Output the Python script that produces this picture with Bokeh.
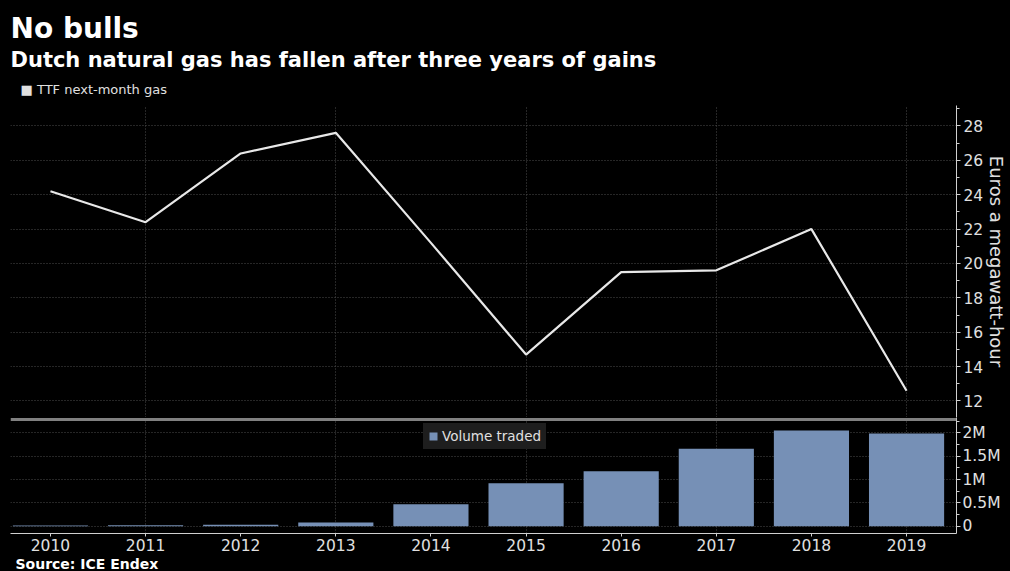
from bokeh.plotting import figure
from bokeh.layouts import column
from bokeh.models import (Range1d, SingleIntervalTicker, FixedTicker, Legend, LegendItem,
                          Span, CustomJSTickFormatter, Title)
from bokeh.embed import file_html
from bokeh.resources import INLINE

# ---- data ----
years = [2010, 2011, 2012, 2013, 2014, 2015, 2016, 2017, 2018, 2019]
ttf_price = [24.2, 22.4, 26.4, 27.6, 21.2, 14.7, 19.5, 19.6, 22.0, 12.6]   # euros / MWh
volume = [15000, 20000, 35000, 80000, 470000, 920000, 1180000, 1660000, 2050000, 1990000]
grid_years = years[1::2]

title_text = "No bulls"
subtitle_text = "Dutch natural gas has fallen after three years of gains"
price_label = "\u25a0 TTF next-month gas"
volume_label = "Volume traded"
y_axis_text = "Euros a megawatt-hour"
source_text = "Source: ICE Endex"

BG = "#000000"
LINE_C = "#e8e8e8"
BAR_C = "#7690b6"
GRID_C = "#4d4d4d"
AXIS_C = "#d0d0d0"
TXT_C = "#e0e0e0"
TICK_FONT = "DejaVu Sans"
TITLE_FONT = "DejaVu Sans"

x_rng = Range1d(2009.58, 2019.525)

# ---- top panel: price ----
p1 = figure(width=1010, height=417, output_backend="svg", toolbar_location=None, tools="",
            x_range=x_rng, y_range=Range1d(11.04, 29.19),
            x_axis_location=None, y_axis_location="right",
            min_border_top=105, min_border_bottom=0, min_border_left=10, min_border_right=52)
p1.background_fill_color = BG
p1.border_fill_color = BG
p1.outline_line_color = None
p1.styles = {"background-color": BG}

p1.line(years, ttf_price, line_color=LINE_C, line_width=2.2)

ax1 = p1.yaxis[0]
ax1.ticker = SingleIntervalTicker(interval=2, num_minor_ticks=2)
ax1.axis_line_color = AXIS_C
ax1.major_tick_line_color = AXIS_C
ax1.minor_tick_line_color = AXIS_C
ax1.major_tick_in = 0
ax1.major_tick_out = 4
ax1.minor_tick_in = 0
ax1.minor_tick_out = 3
ax1.major_label_standoff = 3
ax1.major_label_text_font = TICK_FONT
ax1.major_label_text_font_size = "15.5px"
ax1.major_label_text_color = TXT_C
ax1.axis_label = y_axis_text
ax1.axis_label_standoff = 0
ax1.axis_label_text_font = TICK_FONT
ax1.axis_label_text_font_size = "18px"
ax1.axis_label_text_font_style = "normal"
ax1.axis_label_text_color = TXT_C

p1.xgrid.ticker = FixedTicker(ticks=grid_years)
for g in (p1.xgrid, p1.ygrid):
    g.grid_line_color = GRID_C
    g.grid_line_dash = "1 2"
    g.grid_line_width = 1

p1.add_layout(Title(text=price_label, align="left", offset=10, standoff=17,
                    text_font=TITLE_FONT, text_font_style="normal", text_font_size="13px",
                    text_color=TXT_C), "above")
p1.add_layout(Title(text=subtitle_text, align="left", offset=0, standoff=0,
                    text_font=TITLE_FONT, text_font_style="bold", text_font_size="21px",
                    text_color="#ffffff"), "above")
p1.add_layout(Title(text=title_text, align="left", offset=0, standoff=2,
                    text_font=TITLE_FONT, text_font_style="bold", text_font_size="28px",
                    text_color="#ffffff"), "above")

# ---- bottom panel: volume ----
p2 = figure(width=1010, height=154, output_backend="svg", toolbar_location=None, tools="",
            x_range=x_rng, y_range=Range1d(-154000, 2330000),
            y_axis_location="right",
            min_border_top=0, min_border_bottom=0, min_border_left=10, min_border_right=52)
p2.background_fill_color = BG
p2.border_fill_color = BG
p2.outline_line_color = None
p2.styles = {"background-color": BG}

bars = p2.vbar(x=years, top=volume, bottom=0, width=0.79, fill_color=BAR_C, line_color=None)

p2.add_layout(Span(location=2286000, dimension="width", line_color="#808080", line_width=3))

ax2 = p2.yaxis[0]
ax2.ticker = SingleIntervalTicker(interval=500000, num_minor_ticks=2)
ax2.formatter = CustomJSTickFormatter(code="return tick == 0 ? '0' : (tick / 1e6) + 'M';")
ax2.axis_line_color = AXIS_C
ax2.major_tick_line_color = AXIS_C
ax2.minor_tick_line_color = AXIS_C
ax2.major_tick_in = 0
ax2.major_tick_out = 4
ax2.minor_tick_in = 0
ax2.minor_tick_out = 3
ax2.major_label_standoff = 2
ax2.major_label_text_font = TICK_FONT
ax2.major_label_text_font_size = "15.5px"
ax2.major_label_text_color = TXT_C

axx = p2.xaxis[0]
axx.ticker = FixedTicker(ticks=years)
axx.axis_line_color = AXIS_C
axx.major_tick_line_color = AXIS_C
axx.minor_tick_line_color = None
axx.major_tick_in = 0
axx.major_tick_out = 3
axx.major_label_standoff = 2
axx.major_label_text_font = TICK_FONT
axx.major_label_text_font_size = "15.5px"
axx.major_label_text_color = TXT_C

p2.xgrid.ticker = FixedTicker(ticks=grid_years)
for g in (p2.xgrid, p2.ygrid):
    g.grid_line_color = GRID_C
    g.grid_line_dash = "1 2"
    g.grid_line_width = 1

leg2 = Legend(items=[LegendItem(label=volume_label, renderers=[bars])],
              location=(413, 84), orientation="horizontal",
              glyph_width=10, glyph_height=10, label_standoff=4, padding=5, margin=0,
              label_text_font=TITLE_FONT, label_text_font_size="13.5px",
              label_text_color=TXT_C, label_height=12,
              background_fill_color="#1e1e1e", background_fill_alpha=1,
              border_line_alpha=0)
p2.add_layout(leg2, "center")

p2.add_layout(Title(text=source_text, align="left", offset=5, standoff=0,
                    text_font=TITLE_FONT, text_font_style="bold", text_font_size="14px",
                    text_color="#ffffff"), "below")

layout = column(p1, p2, spacing=0)
layout.background = BG
layout.styles = {"background-color": BG}

open("out.html", "w").write(file_html(layout, INLINE))
